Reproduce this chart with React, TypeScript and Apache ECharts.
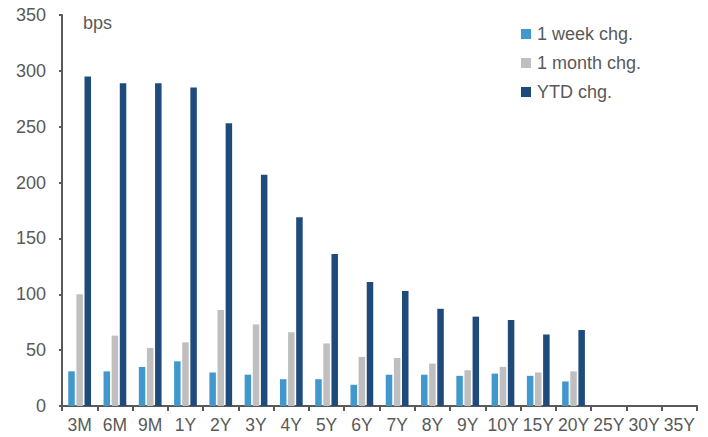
import React, { useEffect, useRef } from "react";
import * as echarts from "echarts";

// Tenor buckets along the curve
const tenors = ["3M", "6M", "9M", "1Y", "2Y", "3Y", "4Y", "5Y", "6Y", "7Y", "8Y", "9Y", "10Y", "15Y", "20Y", "25Y", "30Y", "35Y"];

// Yield changes in bps per tenor (no data for the longest tenors)
const weekChg = [31, 31, 35, 40, 30, 28, 24, 24, 19, 28, 28, 27, 29, 27, 22, null, null, null];
const monthChg = [100, 63, 52, 57, 86, 73, 66, 56, 44, 43, 38, 32, 35, 30, 31, null, null, null];
const ytdChg = [295, 289, 289, 285, 253, 207, 169, 136, 111, 103, 87, 80, 77, 64, 68, null, null, null];

const yTicks = { min: 0, max: 350, interval: 50 };

const TEXT = "#595959";
const FONT = "Liberation Sans, Arial, sans-serif";

export default function App() {
  const ref = useRef<HTMLDivElement>(null);

  useEffect(() => {
    if (!ref.current) return;
    const chart = echarts.init(ref.current, undefined, { renderer: "svg" });
    chart.setOption({
      animation: false,
      textStyle: { fontFamily: FONT, color: TEXT },
      grid: { left: 62, right: 11, top: 15, bottom: 31, containLabel: false },
      legend: {
        orient: "vertical",
        left: 521,
        top: 25,
        padding: 0,
        itemWidth: 10,
        itemHeight: 10,
        itemGap: 11,
        icon: "rect",
        textStyle: { fontSize: 18, color: TEXT, fontFamily: FONT, lineHeight: 18, padding: [0, 0, 0, 1] },
        data: ["1 week chg.", "1 month chg.", "YTD chg."],
      },
      graphic: [
        {
          type: "text",
          left: 83,
          top: 14,
          style: { text: "bps", fontSize: 18, fill: TEXT, fontFamily: FONT },
        },
      ],
      xAxis: {
        type: "category",
        data: tenors,
        axisLine: { lineStyle: { color: TEXT, width: 2 } },
        axisTick: { show: true, length: 5, alignWithLabel: false, lineStyle: { color: TEXT, width: 2 } },
        axisLabel: { fontSize: 17.5, color: TEXT, margin: 10, interval: 0, fontFamily: FONT },
      },
      yAxis: {
        type: "value",
        min: yTicks.min,
        max: yTicks.max,
        interval: yTicks.interval,
        axisLine: { show: true, lineStyle: { color: TEXT, width: 2 } },
        axisTick: { show: true, length: 3, lineStyle: { color: TEXT, width: 2 } },
        splitLine: { show: false },
        axisLabel: { fontSize: 18, color: TEXT, margin: 16, fontFamily: FONT },
      },
      series: [
        {
          name: "1 week chg.",
          type: "bar",
          data: weekChg,
          barWidth: 6.5,
          barGap: "25%",
          itemStyle: { color: "#4198CD" },
        },
        {
          name: "1 month chg.",
          type: "bar",
          data: monthChg,
          barWidth: 6.5,
          barGap: "25%",
          itemStyle: { color: "#BFBFBF" },
        },
        {
          name: "YTD chg.",
          type: "bar",
          data: ytdChg,
          barWidth: 6.5,
          barGap: "25%",
          itemStyle: { color: "#1F4A7C" },
        },
      ],
    });
    return () => chart.dispose();
  }, []);

  return <div ref={ref} style={{ width: 708, height: 437, position: "absolute", left: 0, top: 0 }} />;
}
